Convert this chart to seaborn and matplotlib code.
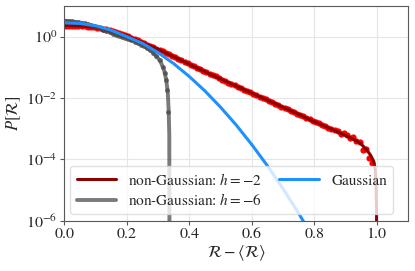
import numpy as np
import pandas as pd
import seaborn as sns
import matplotlib.pyplot as plt

plt.switch_backend("Agg")

# values, stored as log10 P
# h = -2 : histogram points (bin centres) and theory line
red_pts_x = [0.005, 0.015, 0.025, 0.035, 0.045, 0.055, 0.065, 0.075, 0.085, 0.095,
             0.105, 0.115, 0.125, 0.135, 0.145, 0.155, 0.165, 0.175, 0.185, 0.195,
             0.205, 0.215, 0.225, 0.235, 0.245, 0.255, 0.265, 0.275, 0.285, 0.295,
             0.305, 0.315, 0.325, 0.335, 0.345, 0.355, 0.365, 0.375, 0.385, 0.395,
             0.405, 0.415, 0.425, 0.435, 0.445, 0.455, 0.465, 0.475, 0.485, 0.495,
             0.505, 0.515, 0.525, 0.535, 0.545, 0.555, 0.565, 0.575, 0.585, 0.595,
             0.605, 0.615, 0.625, 0.635, 0.645, 0.655, 0.665, 0.675, 0.685, 0.695,
             0.705, 0.715, 0.725, 0.735, 0.745, 0.755, 0.765, 0.775, 0.785, 0.795,
             0.805, 0.815, 0.825, 0.835, 0.845, 0.855, 0.865, 0.875, 0.885, 0.895,
             0.905, 0.915, 0.925, 0.935, 0.945, 0.955, 0.965, 0.975, 0.985]
red_pts_logp = [0.36, 0.36, 0.36, 0.355, 0.35, 0.345, 0.335, 0.325, 0.315, 0.305,
                0.29, 0.275, 0.255, 0.235, 0.21, 0.185, 0.16, 0.125, 0.09, 0.05,
                0.01, -0.03, -0.08, -0.12, -0.17, -0.21, -0.26, -0.30, -0.35, -0.39,
                -0.44, -0.48, -0.53, -0.58, -0.63, -0.67, -0.72, -0.77, -0.82, -0.87,
                -0.92, -0.97, -1.02, -1.06, -1.11, -1.16, -1.21, -1.26, -1.30, -1.35,
                -1.40, -1.45, -1.50, -1.54, -1.59, -1.64, -1.68, -1.73, -1.77, -1.82,
                -1.87, -1.91, -1.96, -2.00, -2.05, -2.10, -2.14, -2.19, -2.23, -2.28,
                -2.33, -2.36, -2.43, -2.45, -2.52, -2.56, -2.60, -2.66, -2.69, -2.74,
                -2.79, -2.82, -2.88, -2.91, -2.97, -3.00, -3.06, -3.08, -3.16, -3.14,
                -3.20, -3.30, -3.28, -3.40, -3.45, -3.70, -3.66, -3.96, -4.12]
red_line_x = [0.0, 0.05, 0.1, 0.15, 0.2, 0.25, 0.3, 0.35, 0.4, 0.45, 0.5, 0.55, 0.6,
              0.65, 0.7, 0.75, 0.8, 0.85, 0.9, 0.93, 0.95, 0.97, 0.98, 0.99, 0.995,
              0.998, 0.9995, 1.0]
red_line_logp = [0.36, 0.35, 0.30, 0.20, 0.03, -0.19, -0.41, -0.65, -0.90, -1.14, -1.38,
                 -1.61, -1.84, -2.07, -2.30, -2.53, -2.77, -2.99, -3.22, -3.37, -3.50,
                 -3.72, -3.86, -4.06, -4.30, -4.80, -5.60, -9.0]

# h = -6
gray_pts_x = [0.005, 0.015, 0.025, 0.035, 0.045, 0.055, 0.065, 0.075, 0.085, 0.095,
              0.105, 0.115, 0.125, 0.135, 0.145, 0.155, 0.165, 0.175, 0.185, 0.195,
              0.205, 0.215, 0.225, 0.235, 0.245, 0.255, 0.265, 0.275, 0.285, 0.295,
              0.305, 0.315, 0.322, 0.326, 0.330, 0.333]
gray_pts_logp = [0.52, 0.51, 0.50, 0.49, 0.47, 0.45, 0.43, 0.40, 0.37, 0.34,
                 0.31, 0.27, 0.23, 0.18, 0.14, 0.10, 0.06, 0.02, -0.01, -0.04,
                 -0.08, -0.12, -0.16, -0.21, -0.26, -0.31, -0.37, -0.44, -0.53, -0.63,
                 -0.77, -0.98, -1.20, -1.41, -1.74, -2.47]
gray_line_x = [0.0, 0.05, 0.1, 0.15, 0.2, 0.25, 0.28, 0.3, 0.31, 0.32, 0.326, 0.331,
               0.334, 0.336, 0.337]
gray_line_logp = [0.52, 0.46, 0.32, 0.12, -0.05, -0.28, -0.48, -0.70, -0.86, -1.12,
                  -1.40, -1.80, -2.40, -3.20, -9.0]

# Gaussian
gauss_x = [0.0, 0.05, 0.1, 0.15, 0.2, 0.25, 0.3, 0.35, 0.4, 0.45, 0.5, 0.55, 0.6,
           0.65, 0.7, 0.75, 0.8]
gauss_logp = [0.45, 0.43, 0.36, 0.21, 0.0, -0.22, -0.52, -0.88, -1.30, -1.77, -2.30,
              -2.88, -3.52, -4.21, -4.96, -5.76, -6.62]

labels = ["non-Gaussian: $h=-2$", "non-Gaussian: $h=-6$", "Gaussian"]

sns.set_style("whitegrid", {"grid.color": "0.9", "axes.edgecolor": "0.35"})
plt.rcParams["font.family"] = ["STIXGeneral", "DejaVu Serif"]
plt.rcParams["mathtext.fontset"] = "stix"
plt.rcParams["font.size"] = 11

fig, ax = plt.subplots(figsize=(4.15, 2.71), dpi=100)
fig.subplots_adjust(left=0.155, right=0.983, top=0.978, bottom=0.186)

red_pts = pd.DataFrame({"x": red_pts_x, "p": 10 ** np.array(red_pts_logp)})
red_line = pd.DataFrame({"x": red_line_x, "p": 10 ** np.array(red_line_logp)})
gray_pts = pd.DataFrame({"x": gray_pts_x, "p": 10 ** np.array(gray_pts_logp)})
gray_line = pd.DataFrame({"x": gray_line_x, "p": 10 ** np.array(gray_line_logp)})
gauss = pd.DataFrame({"x": gauss_x, "p": 10 ** np.array(gauss_logp)})

sns.scatterplot(data=red_pts, x="x", y="p", color="red", s=20, linewidth=0, ax=ax)
sns.lineplot(data=red_line, x="x", y="p", color="darkred", lw=2.2, label=labels[0], ax=ax)
sns.scatterplot(data=gray_pts, x="x", y="p", color="0.2", s=12, linewidth=0, alpha=0.7, ax=ax)
sns.lineplot(data=gray_line, x="x", y="p", color="0.3", lw=2.8, alpha=0.75, label=labels[1], ax=ax)
sns.lineplot(data=gauss, x="x", y="p", color="#1e90ff", lw=2.2, label=labels[2], ax=ax)

ax.set_yscale("log")
ax.set_xlim(0, 1.1)
ax.set_ylim(1e-6, 10)
ax.set_xticks([0.0, 0.2, 0.4, 0.6, 0.8, 1.0])
ax.set_yticks([1e0, 1e-2, 1e-4, 1e-6])
ax.minorticks_off()
ax.tick_params(axis="both", which="major", length=3, width=0.8, color="0.35",
               labelsize=11.5, pad=2, bottom=True, left=True)
ax.set_xlabel(r"$\mathcal{R}-\langle\mathcal{R}\rangle$", fontsize=12, labelpad=2)
ax.set_ylabel(r"$P[\mathcal{R}]$", fontsize=12, labelpad=2)

ax.legend(loc="lower left", ncol=2, fontsize=11, framealpha=0.8, edgecolor="0.85",
          handlelength=2.6, columnspacing=1.1, borderaxespad=0.4,
          handletextpad=0.8, labelspacing=0.3)

plt.savefig("out.png", dpi=100)
plt.close()
